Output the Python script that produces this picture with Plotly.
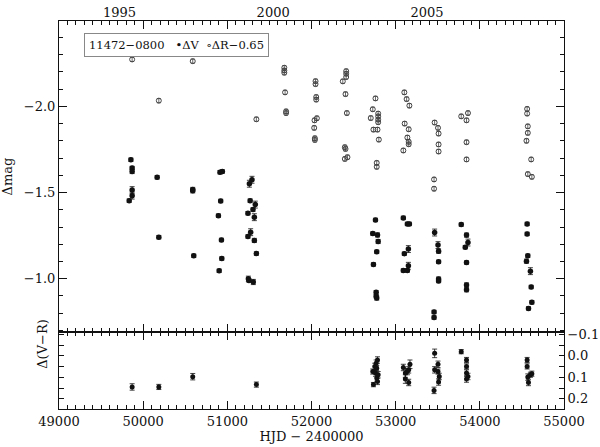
import plotly.graph_objects as go

# Delta V light curve (HJD - 2400000, mag, error)
v_hjd = [49834, 49854, 49869, 49869, 49869, 49869,
         50166, 50186,
         50589, 50589, 50601,
         50913, 50941, 50921, 50894, 50930, 50934, 50903,
         51293, 51262, 51271, 51332, 51305, 51245, 51321, 51277, 51245, 51321, 51345, 51250, 51257, 51309,
         52760, 52728, 52784, 52792, 52775, 52736, 52768, 52768, 52775,
         53091, 53139, 53163, 53151, 53103, 53151, 53091, 53139,
         53463, 53503, 53510, 53510, 53510, 53510, 53456, 53456,
         53779, 53842, 53859, 53827, 53842, 53842, 53842,
         54562, 54562, 54570, 54554, 54601, 54610, 54618, 54578]
v_mag = [-1.453, -1.690, -1.642, -1.622, -1.514, -1.482,
         -1.588, -1.241,
         -1.518, -1.510, -1.133,
         -1.618, -1.622, -1.451, -1.366, -1.225, -1.117, -1.046,
         -1.574, -1.551, -1.453, -1.430, -1.401, -1.380, -1.357, -1.270, -1.245, -1.222, -1.146, -1.000, -0.990, -0.981,
         -1.341, -1.262, -1.254, -1.216, -1.156, -1.083, -0.921, -0.898, -0.888,
         -1.353, -1.318, -1.318, -1.172, -1.145, -1.075, -1.048, -1.048,
         -1.268, -1.195, -1.160, -1.098, -0.998, -0.987, -0.807, -0.775,
         -1.314, -1.253, -1.210, -1.183, -1.094, -0.964, -0.936,
         -1.318, -1.260, -1.133, -1.102, -1.044, -0.952, -0.863, -0.828]
v_err = [0.010, 0.010, 0.010, 0.012, 0.020, 0.020,
         0.010, 0.010,
         0.012, 0.012, 0.010,
         0.010, 0.010, 0.010, 0.010, 0.010, 0.010, 0.010,
         0.020, 0.020, 0.010, 0.020, 0.010, 0.010, 0.020, 0.020, 0.010, 0.012, 0.010, 0.015, 0.010, 0.015,
         0.010, 0.010, 0.012, 0.012, 0.010, 0.010, 0.010, 0.010, 0.012,
         0.010, 0.010, 0.010, 0.020, 0.010, 0.020, 0.010, 0.010,
         0.020, 0.020, 0.012, 0.010, 0.012, 0.010, 0.010, 0.010,
         0.010, 0.012, 0.020, 0.010, 0.010, 0.012, 0.012,
         0.010, 0.010, 0.010, 0.012, 0.020, 0.010, 0.010, 0.010]

# Delta R - 0.65
r_hjd = [49869, 50186, 50589, 51345,
         51677, 51677, 51677, 51686, 51698, 51698,
         52048, 52048, 52056, 52056, 52064, 52036, 52032, 52040, 52040,
         52372, 52412, 52412, 52412, 52404, 52420, 52396, 52404, 52396, 52427,
         52760, 52728, 52704, 52792, 52792, 52792, 52792, 52736, 52784, 52800, 52775, 52775,
         53103, 53130, 53163, 53107, 53155, 53139, 53155, 53155, 53091,
         53463, 53503, 53510, 53510, 53510, 53456, 53456,
         53779, 53859, 53842, 53842, 53842,
         54562, 54562, 54570, 54570, 54554, 54610, 54570, 54618]
r_mag = [-2.272, -2.033, -2.262, -1.925,
         -2.224, -2.208, -2.195, -2.081, -1.971, -1.961,
         -2.146, -2.129, -2.054, -2.039, -1.931, -1.919, -1.875, -1.815, -1.805,
         -2.145, -2.204, -2.189, -2.170, -2.071, -1.961, -1.763, -1.753, -1.695, -1.705,
         -2.046, -1.983, -1.932, -1.958, -1.942, -1.923, -1.908, -1.865, -1.865, -1.807, -1.672, -1.649,
         -2.081, -2.042, -2.004, -1.900, -1.867, -1.819, -1.794, -1.780, -1.744,
         -1.906, -1.875, -1.842, -1.779, -1.738, -1.576, -1.522,
         -1.942, -1.961, -1.919, -1.792, -1.692,
         -1.985, -1.958, -1.884, -1.846, -1.800, -1.692, -1.607, -1.591]

# Delta (V - R)
c_hjd = [49869, 50186, 50589, 51345,
         52728, 52736, 52752, 52768, 52784, 52760, 52775, 52784, 52792, 52775,
         53091, 53115, 53115, 53139, 53155, 53170, 53155,
         53456, 53463, 53463, 53503, 53503, 53518, 53510,
         53779, 53842, 53842, 53842, 53859, 53842,
         54562, 54562, 54570, 54578, 54601, 54618]
c_col = [0.145, 0.145, 0.097, 0.134,
         0.073, 0.134, 0.049, 0.034, 0.019, 0.080, 0.103, 0.119, 0.088, 0.057,
         0.054, 0.080, 0.108, 0.073, 0.124, 0.039, 0.065,
         0.161, -0.012, 0.065, 0.039, 0.073, 0.096, 0.122,
         -0.020, 0.019, 0.049, 0.080, 0.096, 0.108,
         0.019, 0.049, 0.099, 0.124, 0.088, 0.083]
c_err = [0.015, 0.012, 0.015, 0.012,
         0.012, 0.010, 0.015, 0.015, 0.015, 0.015, 0.015, 0.015, 0.015, 0.012,
         0.015, 0.020, 0.020, 0.015, 0.015, 0.020, 0.015,
         0.015, 0.020, 0.015, 0.015, 0.012, 0.015, 0.015,
         0.010, 0.012, 0.012, 0.015, 0.015, 0.015,
         0.012, 0.012, 0.015, 0.015, 0.012, 0.012]

x_ticks = [49000, 50000, 51000, 52000, 53000, 54000, 55000]
year_labels = ["1995", "2000", "2005"]
year_hjd = [49718.5, 51544.5, 53371.5]

FONT = "DejaVu Serif"
ink = "#111111"

fig = go.Figure()
fig.add_trace(go.Scatter(x=r_hjd, y=r_mag, mode="markers", xaxis="x2", yaxis="y",
                         marker=dict(symbol="circle-open", size=5, color="#444", line=dict(width=1)),
                         error_y=dict(type="constant", value=0.012, thickness=0.8, width=2, color="#444")))
fig.add_trace(go.Scatter(x=v_hjd, y=v_mag, mode="markers", xaxis="x2", yaxis="y",
                         marker=dict(symbol="circle", size=5.5, color=ink),
                         error_y=dict(type="data", array=v_err, thickness=0.8, width=2.5, color=ink)))
fig.add_trace(go.Scatter(x=c_hjd, y=c_col, mode="markers", xaxis="x", yaxis="y2",
                         marker=dict(symbol="circle", size=5, color=ink),
                         error_y=dict(type="data", array=c_err, thickness=0.8, width=2.5, color=ink)))
# invisible trace so the year axis is drawn
fig.add_trace(go.Scatter(x=[49000], y=[-2.0], xaxis="x3", yaxis="y", mode="markers",
                         marker=dict(opacity=0), hoverinfo="skip"))

axis_common = dict(showgrid=False, zeroline=False, showline=True, linecolor=ink, linewidth=1,
                   ticks="inside", tickcolor=ink, mirror="ticks", automargin=False,
                   tickfont=dict(family=FONT, size=13, color=ink))
split = 0.198

fig.update_layout(
    width=600, height=447,
    margin=dict(l=59, r=36, t=21, b=38),
    paper_bgcolor="white", plot_bgcolor="white",
    showlegend=False,
    font=dict(family=FONT, size=13, color=ink),
    xaxis=dict(axis_common, range=[49000, 55000], domain=[0, 1], anchor="y2",
               tickvals=x_ticks, ticktext=[str(t) for t in x_ticks],
               ticklen=8, minor=dict(dtick=100, ticklen=4, ticks="inside", tickcolor=ink),
               title=dict(text="HJD − 2400000", standoff=2, font=dict(family=FONT, size=13))),
    xaxis2=dict(axis_common, range=[49000, 55000], domain=[0, 1], anchor="y", showticklabels=False,
                tickvals=x_ticks,
                ticklen=8, minor=dict(dtick=100, ticklen=4, ticks="inside", tickcolor=ink)),
    xaxis3=dict(overlaying="x2", range=[49000, 55000], side="top", anchor="y", showline=False,
                showgrid=False, zeroline=False, ticks="", tickvals=year_hjd, ticktext=year_labels,
                automargin=False, tickfont=dict(family=FONT, size=13, color=ink)),
    yaxis=dict(axis_common, domain=[split, 1], range=[-0.69, -2.495], anchor="x2",
               tickvals=[-2.0, -1.5, -1.0], ticktext=["−2.0", "−1.5", "−1.0"],
               ticklen=8, minor=dict(dtick=0.1, tick0=0, ticklen=4, ticks="inside", tickcolor=ink),
               title=dict(text="Δmag", standoff=10, font=dict(family=FONT, size=13))),
    yaxis2=dict(axis_common, domain=[0, split], range=[0.248, -0.111], side="right", anchor="x",
                tickvals=[-0.1, 0.0, 0.1, 0.2], ticktext=["−0.1", "0.0", "0.1", "0.2"],
                ticklen=5, minor=dict(dtick=0.05, tick0=0, ticklen=5, ticks="inside", tickcolor=ink)),
)

fig.add_annotation(text="Δ(V−R)", xref="paper", yref="paper", x=-0.052, y=split / 2,
                   textangle=-90, showarrow=False, font=dict(family=FONT, size=13, color=ink))
fig.add_annotation(text="11472−0800   •ΔV  ∘ΔR−0.65", xref="paper", yref="paper",
                   x=0.049, y=0.968, xanchor="left", yanchor="top", showarrow=False,
                   bordercolor="#888", borderwidth=1, borderpad=4,
                   font=dict(family=FONT, size=11.5, color=ink))

fig.write_html("out.html", config={"displayModeBar": False},
               post_script="document.body.style.margin='0';")
